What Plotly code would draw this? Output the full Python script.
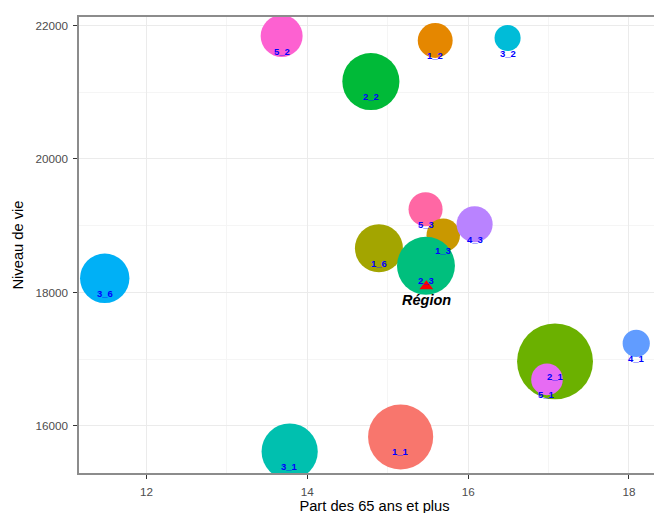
import plotly.graph_objects as go

# data (draw order matters for overlaps)
labels = ["2_1", "5_1", "1_1", "3_1", "4_1", "3_6", "5_3", "1_3", "1_6", "2_3", "4_3", "2_2", "1_2", "3_2", "5_2"]
part65 = [17.08, 16.98, 15.16, 13.78, 18.09, 11.48, 15.47, 15.69, 14.89, 15.475, 16.08, 14.79, 15.59, 16.49, 13.68]
niveau = [16967, 16697, 15835, 15617, 17237, 18212, 19247, 18857, 18662, 18400, 19022, 21160, 21775, 21812, 21842]
poids = [1440, 250, 1060, 790, 185, 610, 290, 280, 575, 840, 325, 815, 305, 170, 440]
couleurs = ["#6BB100", "#E76BF3", "#F8766D", "#00C0AF", "#619CFF", "#00B0F6", "#FF67A4",
            "#C99800", "#A3A500", "#00BF7D", "#B983FF", "#00BA38", "#E58700", "#00BCD8", "#FD61D1"]

region_x = [15.48]
region_y = [18092]
region_label = ["Région"]

x_ticks = [12, 14, 16, 18]
y_ticks = [16000, 18000, 20000, 22000]

fig = go.Figure()
fig.add_trace(go.Scatter(
    x=part65, y=niveau, mode="markers",
    marker=dict(size=poids, sizemode="area", sizeref=0.5, color=couleurs,
                opacity=1, line=dict(width=0)),
    hoverinfo="text", text=labels, showlegend=False, cliponaxis=True,
))
fig.add_trace(go.Scatter(
    x=region_x, y=region_y, mode="markers",
    marker=dict(symbol="triangle-up", size=12, color="#FF0000", line=dict(width=0)),
    showlegend=False,
))

for lx, ly, lt in zip(part65, niveau, labels):
    fig.add_annotation(x=lx, y=ly, text="<b>" + lt + "</b>", showarrow=False, yshift=-15,
                       font=dict(family="Liberation Sans, Arial", size=9.5, color="#0000FF"))
for lx, ly, lt in zip(region_x, region_y, region_label):
    fig.add_annotation(x=lx, y=ly, text="<b><i>" + lt + "</i></b>", showarrow=False, yshift=-14,
                       font=dict(family="Liberation Sans, Arial", size=14.5, color="#000000"))

axis_common = dict(
    showline=True, linecolor="#8C8C8C", linewidth=1.5, mirror=True,
    showgrid=True, gridcolor="#EBEBEB", gridwidth=1.2,
    ticks="outside", ticklen=4, tickcolor="#333333", tickwidth=1,
    ticklabelstandoff=3,
    tickfont=dict(family="Liberation Sans, Arial", size=11.7, color="#4D4D4D"),
    zeroline=False, automargin=False,
)

fig.update_xaxes(range=[11.16, 18.51], tickvals=x_ticks, ticktext=[str(v) for v in x_ticks],
                 minor=dict(tickvals=[11, 13, 15, 17], showgrid=True, gridcolor="#F5F5F5", ticks=""),
                 title=dict(text="Part des 65 ans et plus", standoff=2,
                            font=dict(family="Liberation Sans, Arial", size=14.7, color="#000000")),
                 **axis_common)
fig.update_yaxes(range=[15295, 22127], tickvals=y_ticks, ticktext=[str(v) for v in y_ticks],
                 minor=dict(tickvals=[15000, 17000, 19000, 21000], showgrid=True, gridcolor="#F5F5F5", ticks=""),
                 title=dict(text="Niveau de vie", standoff=8,
                            font=dict(family="Liberation Sans, Arial", size=14.7, color="#000000")),
                 **axis_common)

fig.update_layout(
    width=662, height=513,
    margin=dict(l=71, r=0, t=9, b=48),
    plot_bgcolor="white", paper_bgcolor="white",
    showlegend=False,
)

fig.write_html("out.html")
